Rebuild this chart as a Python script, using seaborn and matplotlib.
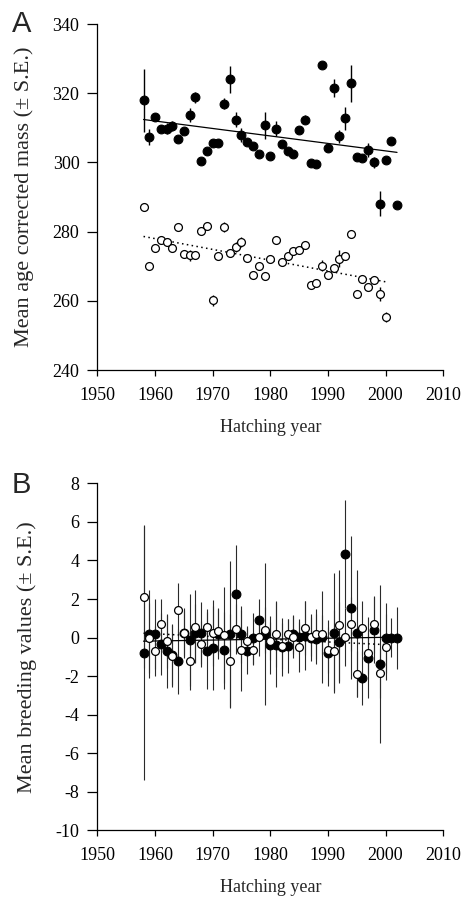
import numpy as np
import pandas as pd
import matplotlib
matplotlib.use("Agg")
import matplotlib.pyplot as plt
import seaborn as sns

# ---------------- data ----------------
years_f = list(range(1958, 2003))
years_o = list(range(1958, 2001))

mass_f = [317.9, 307.3, 313.2, 309.8, 309.8, 310.6, 306.9, 309.0, 313.7, 318.8,
          300.4, 303.2, 305.5, 305.5, 317.0, 324.0, 312.4, 307.9, 305.8, 304.8,
          302.5, 310.7, 301.9, 309.8, 305.3, 303.3, 302.5, 309.4, 312.4, 299.7,
          299.4, 328.1, 304.3, 321.4, 307.5, 312.7, 322.9, 301.7, 301.4, 303.6,
          300.0, 288.1, 300.6, 306.2, 287.7]
mass_f_se = [9.0, 2.3, 1.0, 1.0, 1.5, 1.5, 1.0, 0.5, 2.0, 1.5,
             0.8, 1.0, 1.0, 1.0, 1.5, 3.9, 2.3, 2.0, 0.8, 0.8,
             0.5, 4.0, 0.5, 2.3, 0.8, 0.5, 0.5, 0.5, 1.2, 0.5,
             0.5, 0.5, 1.2, 2.6, 2.0, 3.4, 5.3, 0.8, 0.8, 2.1,
             1.5, 3.7, 0.8, 0.8, 1.0]
mass_o = [287.1, 270.2, 275.3, 277.7, 276.9, 275.4, 281.2, 273.4, 273.1, 273.1,
          280.1, 281.7, 260.1, 272.9, 281.3, 273.7, 275.5, 277.0, 272.3, 267.4,
          270.2, 267.1, 272.0, 277.5, 271.2, 272.9, 274.3, 274.6, 276.0, 264.7,
          265.2, 270.2, 267.6, 269.4, 272.2, 272.9, 279.2, 262.0, 266.4, 264.0,
          266.1, 261.9, 255.3]
mass_o_se = [1.0, 0.5, 0.5, 0.5, 0.5, 1.0, 1.0, 0.5, 1.5, 0.5,
             0.5, 0.5, 1.5, 0.5, 1.5, 1.0, 1.5, 1.5, 0.5, 0.5,
             0.5, 1.0, 0.5, 1.0, 0.5, 0.5, 0.5, 0.5, 0.5, 0.5,
             0.5, 1.5, 0.5, 1.2, 2.5, 0.5, 0.5, 0.5, 0.5, 1.2,
             1.0, 2.0, 1.5]

bv_f = [-0.80, 0.19, 0.19, -0.33, -0.71, -0.89, -1.24, 0.23, -0.12, 0.23,
        0.23, -0.68, -0.54, 0.16, -0.66, 0.16, 2.28, 0.16, -0.71, -0.05,
        0.89, 0.19, -0.37, -0.37, -0.50, -0.45, 0.16, 0.05, 0.10, 0.00,
        -0.07, 0.02, -0.80, 0.23, -0.24, 4.33, 1.55, 0.23, -2.10, -1.06,
        0.40, -1.38, -0.02, 0.00, -0.02]
bv_f_se = [6.6, 2.3, 1.8, 1.6, 1.9, 1.6, 1.7, 1.3, 2.4, 1.5,
           1.6, 2.0, 2.2, 1.3, 2.0, 3.8, 2.5, 1.5, 1.2, 1.3,
           1.1, 3.7, 1.5, 2.2, 1.5, 1.4, 1.0, 0.9, 1.8, 1.2,
           1.3, 2.4, 1.7, 3.1, 2.1, 2.8, 3.7, 3.3, 1.4, 2.1,
           1.7, 4.1, 1.8, 1.0, 1.6]
bv_o = [2.13, -0.02, -0.68, 0.68, -0.16, -0.97, 1.41, 0.23, -1.24, 0.57,
        -0.33, 0.57, 0.23, 0.33, 0.12, -1.20, 0.45, -0.66, -0.19, -0.65,
        0.02, 0.37, -0.19, 0.19, -0.45, 0.16, 0.02, -0.50, 0.50, 0.05,
        0.19, 0.16, -0.66, -0.68, 0.63, 0.02, 0.71, -1.90, 0.50, -0.82,
        0.68, -1.86, -0.50]
bv_o_se = [3.7, 1.8, 1.3, 1.3, 1.4, 1.6, 1.4, 1.2, 1.5, 1.9,
           1.2, 0.9, 1.7, 1.2, 2.5, 2.4, 1.3, 2.1, 0.8, 0.8,
           1.0, 1.2, 1.0, 1.7, 1.2, 0.8, 1.1, 1.3, 1.4, 1.0,
           1.3, 1.0, 1.2, 2.1, 2.9, 1.5, 1.4, 1.2, 1.4, 1.1,
           1.5, 1.3, 1.7]

# regression lines (end points)
trendA_f_x, trendA_f_y = [1958, 2002], [312.4, 302.9]
trendA_o_x, trendA_o_y = [1958, 2000], [278.6, 265.5]
trendB_f_x, trendB_f_y = [1958, 2002], [-0.19, 0.02]
trendB_o_x, trendB_o_y = [1958, 2000], [0.22, -0.37]

xticks = [1950, 1960, 1970, 1980, 1990, 2000, 2010]
yticksA = [240, 260, 280, 300, 320, 340]
yticksB = [-10, -8, -6, -4, -2, 0, 2, 4, 6, 8]

# ---------------- style ----------------
sns.set_style("ticks")
plt.rcParams['font.family'] = ['Liberation Serif', 'DejaVu Serif']
plt.rcParams['axes.linewidth'] = 0.9

fig = plt.figure(figsize=(4.64, 8.99), dpi=100)
axA = fig.add_axes([0.210, 0.5884, 0.745, 0.3849])
axB = fig.add_axes([0.210, 0.0767, 0.745, 0.3855])

dfA_f = pd.DataFrame({"year": years_f, "val": mass_f, "se": mass_f_se})
dfA_o = pd.DataFrame({"year": years_o, "val": mass_o, "se": mass_o_se})
dfB_f = pd.DataFrame({"year": years_f, "val": bv_f, "se": bv_f_se})
dfB_o = pd.DataFrame({"year": years_o, "val": bv_o, "se": bv_o_se})


def draw(ax, df_f, df_o, tf, to, ebcol, eblw):
    ax.errorbar(df_f["year"], df_f["val"], yerr=df_f["se"], fmt='none',
                ecolor=ebcol, elinewidth=eblw, capsize=0, zorder=2)
    ax.errorbar(df_o["year"], df_o["val"], yerr=df_o["se"], fmt='none',
                ecolor=ebcol, elinewidth=eblw, capsize=0, zorder=2)
    sns.lineplot(x=tf[0], y=tf[1], ax=ax, color='black', lw=0.9, zorder=3)
    sns.lineplot(x=to[0], y=to[1], ax=ax, color='black', lw=1.1,
                 linestyle=(0, (1, 2.2)), zorder=3)
    sns.scatterplot(data=df_f, x="year", y="val", ax=ax, color='black',
                    s=40, edgecolor='black', linewidth=0.8, zorder=4)
    sns.scatterplot(data=df_o, x="year", y="val", ax=ax, color='white',
                    s=32, edgecolor='black', linewidth=0.9, zorder=5)


draw(axA, dfA_f, dfA_o, (trendA_f_x, trendA_f_y), (trendA_o_x, trendA_o_y),
     'black', 1.0)
draw(axB, dfB_f, dfB_o, (trendB_f_x, trendB_f_y), (trendB_o_x, trendB_o_y),
     '#2a2a2a', 0.8)

for ax, yt, ylim, ylabel in [
        (axA, yticksA, (240, 340), "Mean age corrected mass (\u00b1 S.E.)"),
        (axB, yticksB, (-10, 8), "Mean breeding values (\u00b1 S.E.)")]:
    ax.set_xlim(1950, 2010)
    ax.set_ylim(*ylim)
    ax.set_xticks(xticks)
    ax.set_yticks(yt)
    ax.set_xticklabels([str(t) for t in xticks], fontsize=13)
    ax.set_yticklabels([str(t) for t in yt], fontsize=13)
    ax.tick_params(axis='x', direction='out', length=4, width=0.9, pad=8,
                   colors='black')
    ax.tick_params(axis='y', direction='out', length=7, width=0.9, pad=6,
                   colors='black')
    ax.set_xlabel("Hatching year", fontsize=13, labelpad=11)
    ax.set_ylabel(ylabel, fontsize=16, labelpad=13)
    sns.despine(ax=ax)
    for sp in ax.spines.values():
        sp.set_color('black')

fig.text(12 / 464, 1 - 24 / 899, "A", fontsize=21, family='Liberation Sans',
         ha='left', va='center')
fig.text(12 / 464, 1 - 485 / 899, "B", fontsize=21, family='Liberation Sans',
         ha='left', va='center')

fig.savefig("out.png", dpi=100)
